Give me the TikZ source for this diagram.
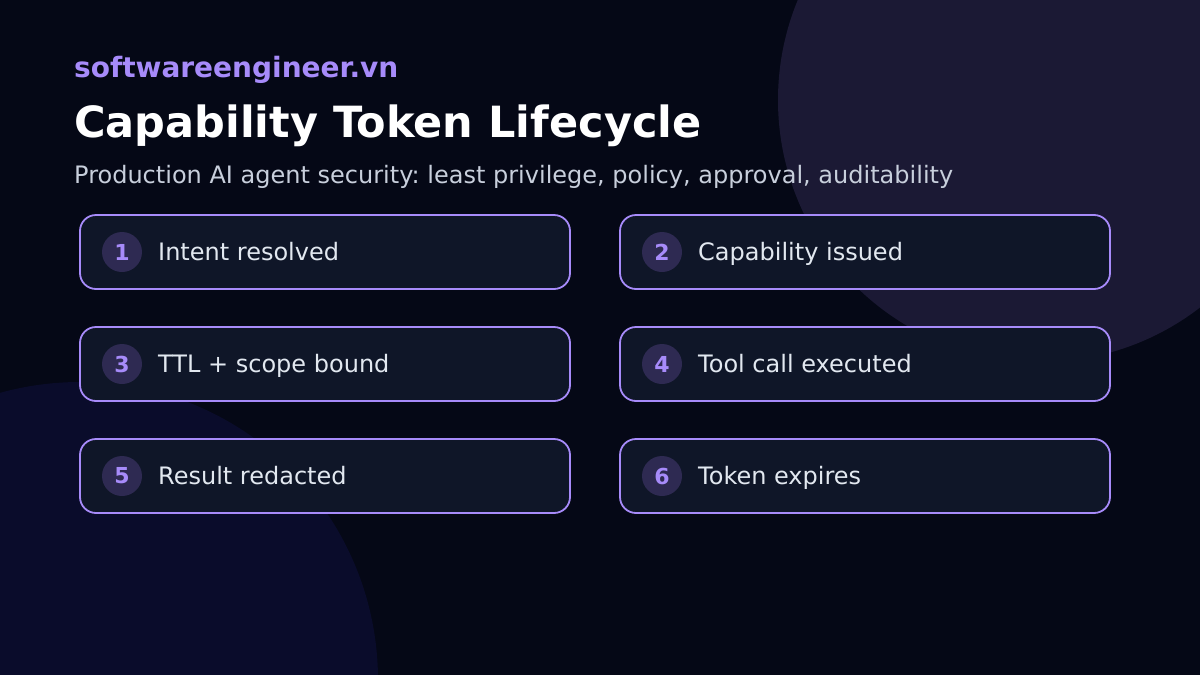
\documentclass[tikz,border=0pt]{standalone}
\usepackage{fontspec}
\setmainfont{DejaVu Sans}
\usepackage{tikz}
\usetikzlibrary{positioning}
\frenchspacing

\definecolor{bgdark}{HTML}{050816}
\definecolor{blobtop}{HTML}{1B1934}
\definecolor{blobbot}{HTML}{0A0C2B}
\definecolor{boxfill}{HTML}{0F1628}
\definecolor{violet}{HTML}{A78BFA}
\definecolor{badgefill}{HTML}{2E2A52}
\definecolor{subgray}{HTML}{C8CFDC}
\definecolor{labgray}{HTML}{E2E8F0}

\begin{document}
\begin{tikzpicture}
	[x=1pt, y=-1pt,%
	stepbox/.style={rectangle,	draw=violet,	fill=boxfill,	line width=1.8pt,	rounded corners=16pt,	minimum width=490pt,	minimum height=74pt,	inner sep=0pt},%
	badge/.style  ={circle,		fill=badgefill,	text=violet,	inner sep=0pt,	minimum size=40pt,	font=\fontsize{22}{22}\selectfont\bfseries},%
	steplab/.style={anchor=base west,	text=labgray,	inner sep=0pt,	font=\fontsize{24}{28}\selectfont},%
	]

	% background
	\fill [bgdark] (0,0) rectangle (1200,675);
	\useasboundingbox (0,0) rectangle (1200,675);
	\begin{scope}
		\clip (0,0) rectangle (1200,675);
		\fill [blobtop] (1040,100) circle [radius=262];
		\fill [blobbot] (80,680) circle [radius=298];
	\end{scope}

	% header
	\node (site)  at (74,77)  [anchor=base west, inner sep=0pt, text=violet, font=\fontsize{28}{32}\selectfont\bfseries] {softwareengineer.vn};
	\node (title) at (74,137) [anchor=base west, inner sep=0pt, text=white, font=\fontsize{43}{50}\selectfont\bfseries] {Capability Token Lifecycle};
	\node (sub)   at (74,183) [anchor=base west, inner sep=0pt, text=subgray, font=\fontsize{24}{28}\selectfont] {Production AI agent security: least privilege, policy, approval, auditability};

	% steps
	\foreach \n/\c/\r/\txt in {1/0/0/Intent resolved, 2/1/0/Capability issued, 3/0/1/TTL + scope bound,%
		4/1/1/Tool call executed, 5/0/2/Result redacted, 6/1/2/Token expires}{%
		\node (box\n) at (325+540*\c,252+112*\r) [stepbox] {};
		\node (num\n) at (122+540*\c,252+112*\r) [badge] {\n};
		\node (lab\n) at (158+540*\c,260+112*\r) [steplab] {\txt};
	}

\end{tikzpicture}
\end{document}
